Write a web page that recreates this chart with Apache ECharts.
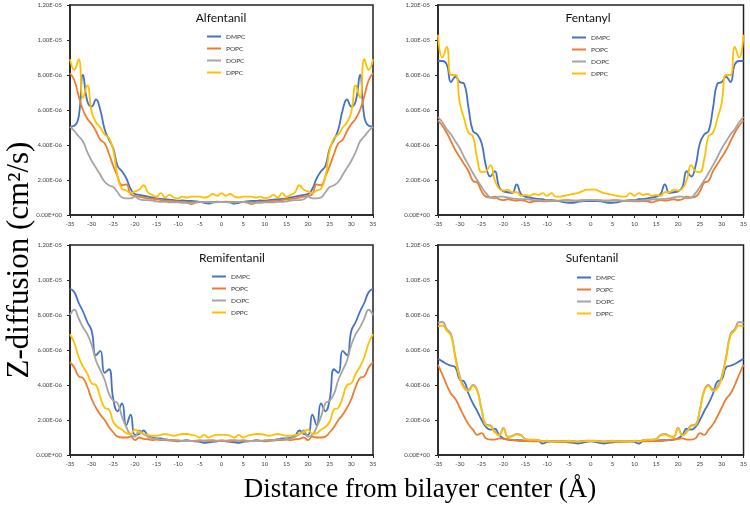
<!DOCTYPE html>
<html><head><meta charset="utf-8">
<script src="https://cdn.jsdelivr.net/npm/echarts@6/dist/echarts.min.js"></script>
<style>html,body{margin:0;padding:0;background:#fff}#c{width:750px;height:509px}</style>
</head><body><div id="c"></div>
<script>
// x positions (Å)
const xValues = [-35,-34,-33,-32,-31,-30,-29,-28,-27,-26,-25,-24,-23,-22,-21,-20,-19,-18,-17,-16,-15,-14,-13,-12,-11,-10,-9,-8,-7,-6,-5,-4,-3,-2,-1,0,1,2,3,4,5,6,7,8,9,10,11,12,13,14,15,16,17,18,19,20,21,22,23,24,25,26,27,28,29,30,31,32,33,34,35];
// y values in units of 1e-6 cm^2/s
const yTickLabels = ["0.00E+00","2.00E-06","4.00E-06","6.00E-06","8.00E-06","1.00E-05","1.20E-05"];
const seriesNames = ["DMPC","POPC","DOPC","DPPC"];
const panelTitles = ["Alfentanil","Fentanyl","Remifentanil","Sufentanil"];

const alfDMPC = [5.05,5.1,5.6,8.0,6.5,6.2,6.6,6.0,4.9,4.3,3.8,2.8,2.5,2.1,1.5,1.2,1.15,1.1,1.05,1.0,0.95,0.92,0.9,0.88,0.85,0.82,0.83,0.8,0.8,0.78,0.75,0.7,0.65,0.72,0.76,0.75,0.76,0.72,0.65,0.7,0.75,0.78,0.8,0.8,0.83,0.82,0.85,0.88,0.9,0.92,0.95,1.0,1.05,1.1,1.15,1.2,1.5,2.1,2.5,2.8,3.8,4.3,4.9,6.0,6.6,6.2,6.5,8.0,5.6,5.1,5.05];
const alfPOPC = [8.1,7.7,6.8,6.0,5.5,5.2,4.8,4.3,4.1,3.5,2.8,2.2,1.7,1.75,1.2,1.1,1.05,1.0,0.95,0.92,0.9,0.85,0.82,0.8,0.78,0.77,0.75,0.72,0.62,0.7,0.75,0.74,0.75,0.74,0.75,0.75,0.75,0.74,0.75,0.74,0.75,0.7,0.62,0.72,0.75,0.77,0.78,0.8,0.82,0.85,0.9,0.92,0.95,1.0,1.05,1.1,1.2,1.75,1.7,2.2,2.8,3.5,4.1,4.3,4.8,5.2,5.5,6.0,6.8,7.7,8.1];
const alfDOPC = [5.05,4.8,4.5,4.2,3.6,3.1,2.7,2.3,1.9,1.7,1.6,1.3,1.0,0.95,0.95,1.05,0.9,0.85,0.85,0.82,0.78,0.75,0.75,0.72,0.72,0.72,0.7,0.7,0.72,0.72,0.75,0.75,0.72,0.72,0.73,0.75,0.73,0.72,0.72,0.75,0.75,0.72,0.72,0.7,0.7,0.72,0.72,0.72,0.75,0.75,0.78,0.82,0.85,0.85,0.9,1.05,0.95,0.95,1.0,1.3,1.6,1.7,1.9,2.3,2.7,3.1,3.6,4.2,4.5,4.8,5.05];
const alfDPPC = [8.9,8.3,8.9,6.7,7.4,5.9,5.3,5.0,4.6,4.4,3.7,2.2,1.5,1.4,1.25,1.35,1.45,1.7,1.3,1.15,1.05,1.25,1.0,1.15,1.0,0.95,1.05,1.0,1.05,1.05,1.05,1.0,1.05,1.2,1.1,1.25,1.1,1.2,1.05,1.0,1.05,1.05,1.05,1.0,1.05,0.95,1.0,1.15,1.0,1.25,1.05,1.15,1.3,1.7,1.45,1.35,1.25,1.4,1.5,2.2,3.7,4.4,4.6,5.0,5.3,5.9,7.4,6.7,8.9,8.3,8.9];

const fenDMPC = [8.8,8.8,8.6,7.6,7.9,7.6,7.5,6.1,4.8,4.6,4.1,2.8,2.2,2.5,1.6,1.35,1.3,1.25,1.75,1.2,1.05,1.0,0.95,0.92,0.9,0.85,0.85,0.82,0.78,0.72,0.7,0.7,0.75,0.78,0.8,0.8,0.8,0.78,0.75,0.7,0.7,0.72,0.78,0.82,0.85,0.85,0.9,0.92,0.95,1.0,1.05,1.2,1.75,1.25,1.3,1.35,1.6,2.5,2.2,2.8,4.1,4.6,4.8,6.1,7.5,7.6,7.9,7.6,8.6,8.8,8.8];
const fenPOPC = [5.4,5.1,4.7,4.2,3.7,3.3,2.9,2.5,1.95,1.85,1.35,1.05,1.0,1.05,0.9,0.85,0.9,0.85,0.82,0.85,0.8,0.72,0.78,0.8,0.78,0.78,0.8,0.8,0.82,0.85,0.85,0.82,0.82,0.85,0.85,0.85,0.85,0.85,0.82,0.82,0.85,0.85,0.82,0.8,0.8,0.78,0.78,0.8,0.78,0.72,0.8,0.85,0.82,0.85,0.9,0.85,0.9,1.05,1.0,1.05,1.35,1.85,1.95,2.5,2.9,3.3,3.7,4.2,4.7,5.1,5.4];
const fenDOPC = [5.6,5.3,4.9,4.6,4.2,3.8,3.3,2.85,2.4,2.0,1.6,1.25,1.0,0.95,1.05,1.05,1.0,0.95,0.92,0.9,0.9,0.88,0.85,0.85,0.82,0.82,0.82,0.82,0.82,0.82,0.82,0.82,0.82,0.82,0.85,0.85,0.85,0.82,0.82,0.82,0.82,0.82,0.82,0.82,0.82,0.82,0.82,0.85,0.85,0.88,0.9,0.9,0.92,0.95,1.0,1.05,1.05,0.95,1.0,1.25,1.6,2.0,2.4,2.85,3.3,3.8,4.2,4.6,4.9,5.3,5.6];
const fenDPPC = [10.3,9.0,9.6,8.0,8.0,6.4,5.5,4.7,4.5,3.2,2.45,2.5,2.85,2.0,1.5,1.4,1.45,1.3,1.3,1.1,1.15,1.1,1.2,1.15,1.25,1.1,1.25,1.05,1.05,1.1,1.15,1.2,1.25,1.35,1.45,1.45,1.45,1.35,1.25,1.2,1.15,1.1,1.05,1.05,1.25,1.1,1.25,1.15,1.2,1.1,1.15,1.1,1.3,1.3,1.45,1.4,1.5,2.0,2.85,2.5,2.45,3.2,4.5,4.7,5.5,6.4,8.0,8.0,9.6,9.0,10.3];

const remDMPC = [9.5,9.3,8.7,8.2,7.6,7.1,5.7,5.95,4.7,4.9,3.2,2.5,2.95,1.7,2.3,1.15,1.2,1.4,1.1,1.0,0.95,0.95,0.9,0.85,0.85,0.8,0.82,0.85,0.8,0.78,0.75,0.7,0.72,0.75,0.78,0.8,0.78,0.75,0.72,0.7,0.75,0.78,0.8,0.85,0.82,0.8,0.85,0.85,0.9,0.95,0.95,1.0,1.1,1.4,1.2,1.15,2.3,1.7,2.95,2.5,3.2,4.9,4.7,5.95,5.7,7.1,7.6,8.2,8.7,9.3,9.5];
const remPOPC = [5.3,5.0,4.5,4.4,3.9,3.2,2.7,2.3,2.0,1.6,1.3,1.05,1.0,1.0,1.05,0.85,1.0,0.92,0.9,0.85,0.88,0.85,0.85,0.82,0.8,0.78,0.8,0.82,0.8,0.78,0.8,0.82,0.8,0.78,0.8,0.8,0.8,0.78,0.8,0.82,0.8,0.78,0.8,0.82,0.8,0.78,0.8,0.82,0.85,0.85,0.88,0.85,0.9,0.92,1.0,0.85,1.05,1.0,1.0,1.05,1.3,1.6,2.0,2.3,2.7,3.2,3.9,4.4,4.5,5.0,5.3];
const remDOPC = [8.0,8.3,7.8,7.3,6.9,6.3,5.4,4.85,4.3,3.5,3.1,2.95,2.2,1.6,1.15,1.05,1.4,1.2,1.05,0.95,0.92,0.88,0.9,0.85,0.85,0.85,0.8,0.82,0.8,0.82,0.85,0.82,0.85,0.85,0.82,0.85,0.82,0.85,0.85,0.82,0.85,0.82,0.8,0.82,0.8,0.85,0.85,0.85,0.9,0.88,0.92,0.95,1.05,1.2,1.4,1.05,1.15,1.6,2.2,2.95,3.1,3.5,4.3,4.85,5.4,6.3,6.9,7.3,7.8,8.3,8.0];
const remDPPC = [6.9,6.4,5.6,5.05,4.65,4.1,4.0,3.3,2.7,2.6,1.9,1.6,1.45,1.25,1.2,1.45,1.3,1.2,1.15,1.1,1.1,1.15,1.2,1.15,1.1,1.15,1.2,1.2,1.15,1.1,1.0,1.15,1.0,1.1,1.15,1.15,1.15,1.1,1.0,1.15,1.0,1.1,1.15,1.2,1.2,1.15,1.1,1.15,1.2,1.15,1.1,1.1,1.15,1.2,1.3,1.45,1.2,1.25,1.45,1.6,1.9,2.6,2.7,3.3,4.0,4.1,4.65,5.05,5.6,6.4,6.9];

const sufDMPC = [5.5,5.35,5.2,5.1,5.0,4.3,4.2,3.5,2.95,2.5,2.0,1.6,1.45,1.5,1.15,0.95,0.88,0.85,0.85,0.85,0.82,0.82,0.8,0.8,0.65,0.75,0.78,0.78,0.75,0.75,0.72,0.7,0.65,0.7,0.75,0.78,0.75,0.7,0.65,0.7,0.72,0.75,0.75,0.78,0.78,0.75,0.65,0.8,0.8,0.82,0.82,0.85,0.85,0.85,0.88,0.95,1.15,1.5,1.45,1.6,2.0,2.5,2.95,3.5,4.2,4.3,5.0,5.1,5.2,5.35,5.5];
const sufPOPC = [5.15,4.6,4.0,3.5,3.2,2.7,2.2,1.75,1.45,1.15,1.25,0.95,0.88,0.88,0.95,0.92,0.9,0.85,0.82,0.8,0.8,0.8,0.78,0.78,0.78,0.78,0.78,0.75,0.75,0.75,0.75,0.75,0.75,0.78,0.8,0.8,0.8,0.78,0.75,0.75,0.75,0.75,0.75,0.75,0.78,0.78,0.78,0.78,0.78,0.8,0.8,0.8,0.82,0.85,0.9,0.92,0.95,0.88,0.88,0.95,1.25,1.15,1.45,1.75,2.2,2.7,3.2,3.5,4.0,4.6,5.15];
const sufDOPC = [7.55,7.6,7.2,6.9,5.6,4.5,3.9,3.75,4.0,3.7,2.6,1.75,1.7,1.35,1.15,1.55,1.05,1.1,1.2,1.15,0.92,0.88,0.88,0.85,0.8,0.82,0.78,0.78,0.8,0.8,0.82,0.8,0.78,0.8,0.82,0.82,0.82,0.8,0.78,0.8,0.82,0.8,0.8,0.78,0.78,0.82,0.8,0.85,0.88,0.88,0.92,1.15,1.2,1.1,1.05,1.55,1.15,1.35,1.7,1.75,2.6,3.7,4.0,3.75,3.9,4.5,5.6,6.9,7.2,7.6,7.55];
const sufDPPC = [7.35,7.4,7.1,6.8,5.5,4.4,3.8,3.65,3.95,3.65,2.55,1.7,1.65,1.3,1.12,1.5,1.02,1.07,1.17,1.12,0.9,0.86,0.86,0.83,0.78,0.8,0.76,0.76,0.78,0.78,0.8,0.78,0.76,0.78,0.8,0.8,0.8,0.78,0.76,0.78,0.8,0.78,0.78,0.76,0.76,0.8,0.78,0.83,0.86,0.86,0.9,1.12,1.17,1.07,1.02,1.5,1.12,1.3,1.65,1.7,2.55,3.65,3.95,3.65,3.8,4.4,5.5,6.8,7.1,7.4,7.35];

const panelData = [
  [alfDMPC, alfPOPC, alfDOPC, alfDPPC],
  [fenDMPC, fenPOPC, fenDOPC, fenDPPC],
  [remDMPC, remPOPC, remDOPC, remDPPC],
  [sufDMPC, sufPOPC, sufDOPC, sufDPPC]
];

const colors = ['#4472C4','#ED7D31','#A5A5A5','#FFC000'];
const grids = [
  {left:70, top:5, width:303, height:210},
  {left:438, top:5, width:308, height:210},
  {left:70, top:245, width:303, height:210},
  {left:438, top:245, width:308, height:210}
];
const titlePos = [[221,18],[588,18],[232,258],[592,258]];
const legendPos = [[207,33],[572,34],[212,273],[577,274]];
const tickFont = 'Lato, "Open Sans", sans-serif';

const option = {
  animation:false,
  color: colors,
  grid: grids.map(g => Object.assign({show:true, borderColor:'#222', borderWidth:1.5, containLabel:false}, g)),
  xAxis: grids.map((g,i) => ({
    type:'value', gridIndex:i, min:-35, max:35, interval:5,
    axisLine:{show:true, onZero:false, lineStyle:{color:'#222', width:1.5}},
    axisTick:{show:true, inside:false, length:3, lineStyle:{color:'#222'}},
    axisLabel:{fontSize:6, color:'#444', margin:6, fontFamily:tickFont, showMinLabel:true, showMaxLabel:true},
    splitLine:{show:false}
  })),
  yAxis: grids.map((g,i) => ({
    type:'value', gridIndex:i, min:0, max:12, interval:2,
    axisLine:{show:true, onZero:false, lineStyle:{color:'#222', width:1.5}},
    axisTick:{show:true, inside:false, length:3, lineStyle:{color:'#222'}},
    axisLabel:{fontSize:6, color:'#444', margin:8, fontFamily:tickFont,
      formatter:(v)=> yTickLabels[Math.round(v/2)]},
    splitLine:{show:false}
  })),
  legend: legendPos.map(p => ({
    data: seriesNames, left:p[0], top:p[1], orient:'vertical',
    icon:'rect', itemWidth:14, itemHeight:2, itemGap:5, padding:0,
    selectedMode:false,
    textStyle:{fontSize:6.5, color:'#333', fontFamily:tickFont}
  })),
  series: [],
  graphic: []
};

panelData.forEach((arrs, p) => {
  arrs.forEach((arr, s) => {
    option.series.push({
      type:'line', name:seriesNames[s], xAxisIndex:p, yAxisIndex:p,
      data: xValues.map((x,i)=>[x, arr[i]]),
      smooth:0.5, showSymbol:false, symbol:'none',
      lineStyle:{width:1.8, color:colors[s]},
      itemStyle:{color:colors[s]}
    });
  });
  option.graphic.push({
    type:'text', x:titlePos[p][0], y:titlePos[p][1],
    style:{text:panelTitles[p], fontSize:12, fontFamily:tickFont, fill:'#111', textAlign:'center', textVerticalAlign:'middle'}
  });
});

option.graphic.push({
  type:'text', x:20, y:260, rotation:Math.PI/2,
  style:{text:'Z-diffusion (cm²/s)', fontSize:31, fontFamily:'"Liberation Serif", serif', fill:'#000', textAlign:'center', textVerticalAlign:'middle'}
});
option.graphic.push({
  type:'text', x:420, y:490,
  style:{text:'Distance from bilayer center (Å)', fontSize:27, fontFamily:'"Liberation Serif", serif', fill:'#000', textAlign:'center', textVerticalAlign:'middle'}
});

const chart = echarts.init(document.getElementById('c'), null, {renderer:'canvas'});
chart.setOption(option);
</script>
</body></html>
